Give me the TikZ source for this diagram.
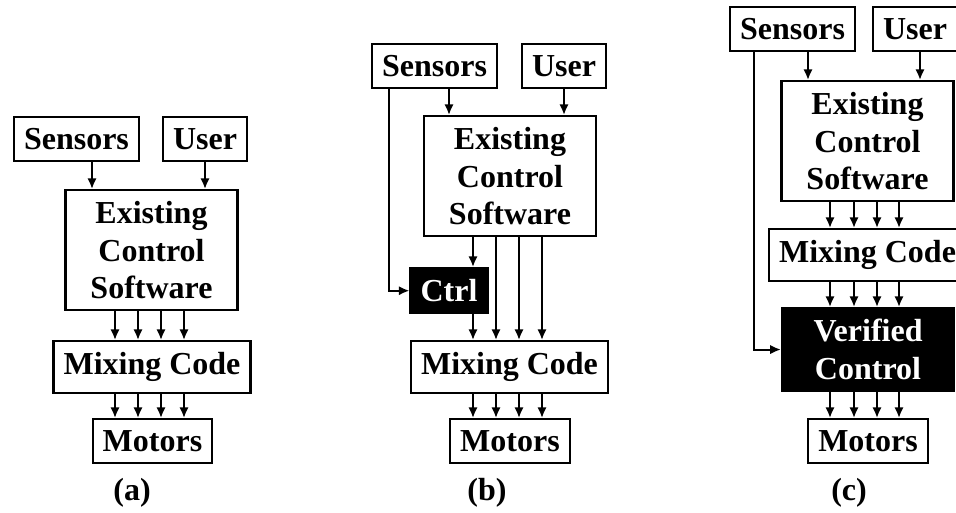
\documentclass[tikz,border=0pt]{standalone}
\usepackage{fontspec}
\setmainfont{Liberation Serif}
\usetikzlibrary{arrows.meta,calc}
\begin{document}
\begin{tikzpicture}[x=0.75pt,y=-0.75pt,
  box/.style={draw, line width=1.7pt, font=\fontsize{24}{28}\selectfont\bfseries,
    inner xsep=7.5pt, inner ysep=8.5pt, align=center, anchor=north},
  blk/.style={box, fill=black, text=white},
  wide/.style={minimum width=129pt},
  arr/.style={line width=1.5pt, -{Latex[length=8pt,width=7pt]}},
  lbl/.style={font=\fontsize{24}{28}\selectfont\bfseries, anchor=base}]
\useasboundingbox (0,0) rectangle (956,513);

% ---------- panel (a)
\node[box] (sa) at (76.5,116) {Sensors};
\node[box] (ua) at (205,116) {User};
\node[box, wide] (ea) at (151.5,189) {Existing\\Control\\Software};
\node[box] (ma) at (152,340) {Mixing Code};
\node[box] (oa) at (152.5,418) {Motors};
\node[lbl] (la) at (132,500) {(a)};
\coordinate (xa) at (92,0);
\draw[arr] (sa.south -| xa) -- (ea.north -| xa);
\draw[arr] (ua.south) -- (ua.south |- ea.north);
\foreach \dx [count=\i] in {-37,-14,9,32} {
  \coordinate (qa\i) at ({152+\dx},0);
  \draw[arr] (ea.south -| qa\i) -- (ma.north -| qa\i);
  \draw[arr] (ma.south -| qa\i) -- (oa.north -| qa\i);
}

% ---------- panel (b)
\node[box] (sb) at (434.5,43) {Sensors};
\node[box] (ub) at (564,43) {User};
\node[box, wide] (eb) at (510,115) {Existing\\Control\\Software};
\node[blk] (cb) at (449,267) {Ctrl};
\node[box] (mb) at (509.5,340) {Mixing Code};
\node[box] (ob) at (510,418) {Motors};
\node[lbl] (lb) at (487,500) {(b)};
\coordinate (xb) at (449,0);
\coordinate (wb) at (389,0);
\draw[arr] (sb.south -| xb) -- (eb.north -| xb);
\draw[arr] (ub.south) -- (ub.south |- eb.north);
\draw[arr] (sb.south -| wb) |- (cb.west);
\foreach \dx [count=\i] in {-37,-14,9,32} {
  \coordinate (qb\i) at ({510+\dx},0);
  \draw[arr] (mb.south -| qb\i) -- (ob.north -| qb\i);
}
\draw[arr] (eb.south -| qb1) -- (cb.north -| qb1);
\draw[arr] (cb.south -| qb1) -- (mb.north -| qb1);
\foreach \i in {2,3,4} {
  \draw[arr] (eb.south -| qb\i) -- (mb.north -| qb\i);
}

% ---------- panel (c)
\node[box] (sc) at (792.5,6) {Sensors};
\node[box] (uc) at (915,6) {User};
\node[box, wide] (ec) at (867.5,80) {Existing\\Control\\Software};
\node[box] (mc) at (867.5,228) {Mixing Code};
\node[blk, wide] (vc) at (868,307) {Verified\\Control};
\node[box] (oc) at (868,418) {Motors};
\node[lbl] (lc) at (849,500) {(c)};
\coordinate (xc) at (808,0);
\coordinate (wc) at (754,0);
\coordinate (yc) at (920,0);
\draw[arr] (sc.south -| xc) -- (ec.north -| xc);
\draw[arr] (uc.south -| yc) -- (ec.north -| yc);
\draw[arr] (sc.south -| wc) |- (vc.west);
\foreach \dx [count=\i] in {-38,-14,9,31} {
  \coordinate (qc\i) at ({868+\dx},0);
  \draw[arr] (ec.south -| qc\i) -- (mc.north -| qc\i);
  \draw[arr] (mc.south -| qc\i) -- (vc.north -| qc\i);
  \draw[arr] (vc.south -| qc\i) -- (oc.north -| qc\i);
}
\end{tikzpicture}
\end{document}
